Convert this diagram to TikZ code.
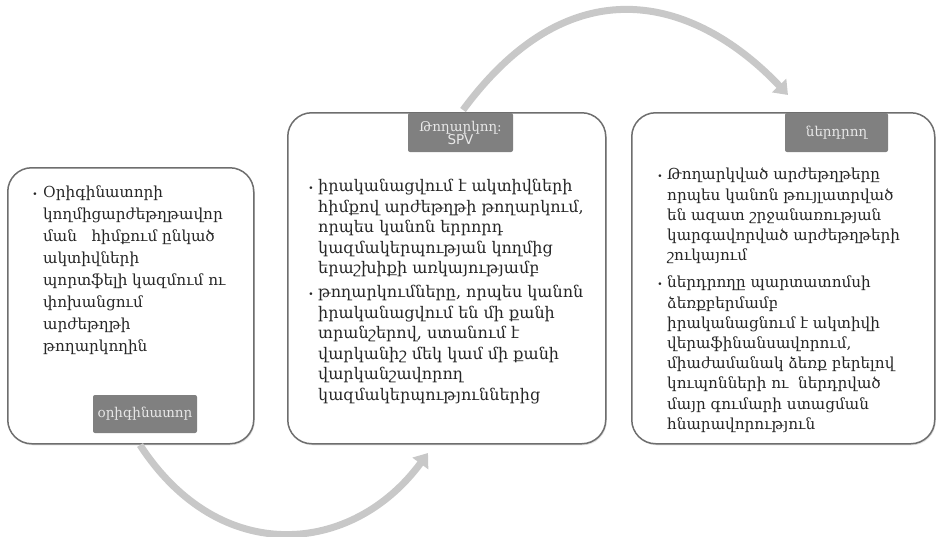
\documentclass[tikz,border=0pt]{standalone}
\usepackage{fontspec}
\setmainfont{DejaVu Serif}
\newfontfamily\lblfont{DejaVu Sans}
\usetikzlibrary{arrows.meta,shadows}
\definecolor{boxline}{HTML}{6E6E6E}
\definecolor{lblfill}{HTML}{808080}
\definecolor{lbltext}{HTML}{E8E8E8}
\definecolor{arr}{HTML}{C8C8C8}
\definecolor{txt}{HTML}{262626}
\tikzset{
  panel/.style={draw=boxline, line width=1.5pt, rounded corners=24pt, fill=white,
    inner sep=0pt, anchor=north west,
    drop shadow={opacity=0.25, shadow xshift=1pt, shadow yshift=-1.5pt}},
  lbl/.style={fill=lblfill, rounded corners=2pt, inner sep=0pt, text=lbltext,
    align=center, font=\fontsize{13.5}{15}\selectfont},
  bodyA/.style={anchor=north west, inner sep=0pt, align=left, text=txt,
    font=\fontsize{15.2}{22}\selectfont},
  bodyB/.style={anchor=north west, inner sep=0pt, align=left, text=txt,
    font=\fontsize{16}{20.5}\selectfont},
  bodyC/.style={anchor=north west, inner sep=0pt, align=left, text=txt,
    font=\fontsize{15.2}{20.2}\selectfont},
  bul/.style={inner sep=0pt, text=txt, font=\fontsize{9}{10}\selectfont},
  flow/.style={draw=arr, line width=7pt, -{Triangle[width=19pt,length=13pt]}}
}
\begin{document}
\begin{tikzpicture}[x=1pt,y=-1pt]
\useasboundingbox (0,0) rectangle (937,536);

% panels
\node[panel, minimum width=246pt, minimum height=276pt] (b1) at (7,167) {};
\node[panel, minimum width=318pt, minimum height=331pt] (b2) at (287,112) {};
\node[panel, minimum width=303pt, minimum height=331pt] (b3) at (631,112) {};

% labels
\node[lbl, minimum width=104pt, minimum height=38pt] (l1) at (145,414) {օրիգինատոր};
\node[lbl, minimum width=105pt, minimum height=39pt] (l2) at (460.5,132.5) {Թողարկող:\\[-2pt]{\lblfont SPV}};
\node[lbl, minimum width=103pt, minimum height=39pt] (l3) at (836.5,132.5) {ներդրող};

% panel 1 text
\node[bul] (p1a) at (35,195) {•};
\node[bodyA] (t1a) at (43,186) {Օրիգինատորի\\կողմիցարժեթղթավոր\\ման \ \ հիմքում ընկած\\ակտիվների\\պորտֆելի կազմում ու\\փոխանցում\\արժեթղթի\\թողարկողին};

% panel 2 text
\node[bul] (p2a) at (311,189) {•};
\node[bodyB] (t2a) at (318,179) {իրականացվում է ակտիվների\\հիմքով արժեթղթի թողարկում,\\որպես կանոն երրորդ\\կազմակերպության կողմից\\երաշխիքի առկայությամբ};
\node[bul] (p2b) at (311,295) {•};
\node[bodyB] (t2b) at (318,285) {թողարկումները, որպես կանոն\\իրականացվում են մի քանի\\տրանշերով, ստանում է\\վարկանիշ մեկ կամ մի քանի\\վարկանշավորող\\կազմակերպություններից};

% panel 3 text
\node[bul] (p3a) at (660,177) {•};
\node[bodyC] (t3a) at (667,168) {Թողարկված արժեթղթերը\\որպես կանոն թույլատրված\\են ազատ շրջանառության\\կարգավորված արժեթղթերի\\շուկայում};
\node[bul] (p3b) at (660,285) {•};
\node[bodyC] (t3b) at (667,276) {ներդրողը պարտատոմսի\\ձեռքբերմամբ\\իրականացնում է ակտիվի\\վերաֆինանսավորում,\\միաժամանակ ձեռք բերելով\\կուպոնների ու \ ներդրված\\մայր գումարի ստացման\\հնարավորություն};

% arrows
\coordinate (s1) at (140,445);
\coordinate (e1) at (428,453);
\coordinate (s2) at (463,110);
\coordinate (e2) at (788,95);
\draw[flow] (s1) .. controls (220,568) and (353,555) .. (e1);
\draw[flow] (s2) .. controls (575,-42) and (700,2) .. (e2);
\end{tikzpicture}
\end{document}
